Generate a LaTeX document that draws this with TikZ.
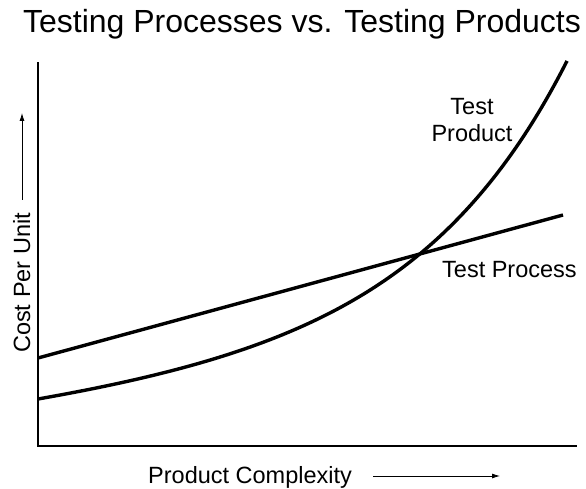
\documentclass[tikz,border=0pt]{standalone}
\usepackage{fontspec}
\setmainfont{Liberation Sans}
\usetikzlibrary{arrows.meta}
\begin{document}
\begin{tikzpicture}[x=1pt,y=-1pt,
  axis/.style={line width=1.3pt,line cap=rect},
  curve/.style={line width=3.4pt},
  pointer/.style={line width=0.8pt,-{Latex[length=8pt,width=5pt]}},
  lbl/.style={inner sep=0pt,font=\fontsize{23.5}{27}\selectfont},
  ttl/.style={inner sep=0pt,font=\fontsize{32}{38}\selectfont}]
\useasboundingbox (0,0) rectangle (586,489);
% axes
\coordinate (origin) at (38,446);
\coordinate (ytop) at (38,63);
\coordinate (xend) at (576,446);
\draw[axis] (ytop) -- (origin) -- (xend);
% title
\node[ttl,anchor=base] (title) at (302,33) {Testing Processes vs. Testing Products};
% axis labels with direction arrows
\node[lbl,anchor=base west,rotate=90] (ylab) at (30,353) {Cost Per Unit};
\coordinate (yarrA) at (22,200);
\coordinate (yarrB) at (22,113);
\draw[pointer] (yarrA) -- (yarrB);
\node[lbl,anchor=base west] (xlab) at (148,483) {Product Complexity};
\coordinate (xarrA) at (373,476);
\coordinate (xarrB) at (500,476);
\draw[pointer] (xarrA) -- (xarrB);
% cost curves: linear process cost, exponential product cost
\coordinate (procA) at (38,358);
\coordinate (procB) at (563,215);
\draw[curve] (procA) -- (procB);
\draw[curve] plot[domain=0:529,samples=150,variable=\t]
  ({38+\t},{399-9.166*(exp(0.0065*\t)-1)-0.1167*\t});
% curve labels
\node[lbl,anchor=base] (tprod1) at (472,115) {Test};
\node[lbl,anchor=base] (tprod2) at (472,142) {Product};
\node[lbl,anchor=base west] (tproc) at (442,277) {Test Process};
\end{tikzpicture}
\end{document}
